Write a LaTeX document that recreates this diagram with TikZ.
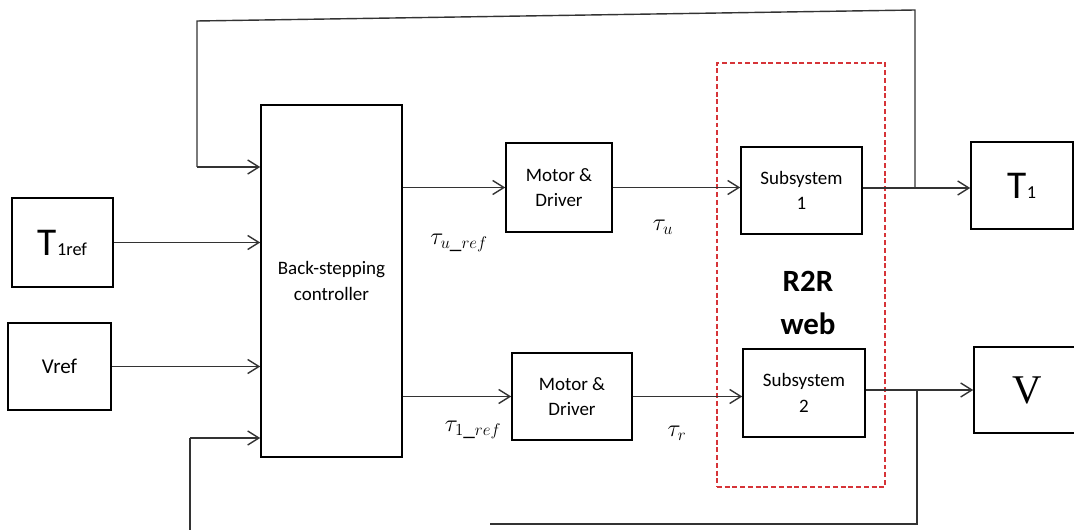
\documentclass[tikz,border=0pt]{standalone}
\usepackage{fontspec}
\setmainfont{Carlito}
\newfontfamily\serifV{Liberation Serif}
\usetikzlibrary{arrows.meta,positioning,calc}
\definecolor{webred}{RGB}{214,52,56}
\tikzset{
  box/.style={draw, line width=1.1pt, inner sep=0pt, align=center,
              font=\fontsize{13.5}{18}\selectfont},
  arrow/.style={-{Straight Barb[length=8pt,width=10pt]}, line width=1pt, black!80},
  wire/.style={line width=1pt, black!80},
  lbl/.style={font=\fontsize{16.5}{18}\selectfont},
}

\begin{document}
\begin{tikzpicture}[x=0.025cm, y=-0.025cm]
  \useasboundingbox (0,0) rectangle (1074,530);
  % blocks
  \node[box, minimum width=2.525cm, minimum height=2.225cm] (tref) at (62.5,242.5)
    {{\fontsize{28}{30}\selectfont T}{\fontsize{13}{15}\selectfont 1ref}};
  \node[box, minimum width=2.575cm, minimum height=2.175cm, font=\fontsize{15}{18}\selectfont] (vref) at (59.5,366.5) {Vref};
  \node[box, minimum width=3.525cm, minimum height=8.8cm] (ctrl) at (331.5,281) {Back-stepping\\controller};
  \node[box, minimum width=2.65cm, minimum height=2.225cm] (mot1) at (559,187.5) {Motor \&\\Driver};
  \node[box, minimum width=3.0cm, minimum height=2.175cm] (mot2) at (572,396.5) {Motor \&\\Driver};
  \node[box, minimum width=3.025cm, minimum height=2.175cm] (sub1) at (801.5,190.5) {Subsystem\\1};
  \node[box, minimum width=3.05cm, minimum height=2.2cm] (sub2) at (804,393) {Subsystem\\2};
  \node[box, minimum width=2.55cm, minimum height=2.175cm] (tout) at (1022,185.5)
    {{\fontsize{28}{30}\selectfont T}{\fontsize{13}{15}\selectfont 1}};
  \node[box, minimum width=2.65cm, minimum height=2.15cm, font=\fontsize{29}{32}\serifV] (vout) at (1027,390) {V};
  % R2R web group
  \node[draw=webred, dashed, dash pattern=on 3.5pt off 2pt, line width=0.8pt,
        minimum width=4.2cm, minimum height=10.6cm] (web) at (801,275) {};
  \node[align=center, font=\fontsize{22}{31}\selectfont\bfseries] (r2r) at (808,303) {R2R\\web};

  % signals
  \draw[arrow] (tref.east) -- (ctrl.west |- tref.east);
  \draw[arrow] (vref.east) -- (ctrl.west |- vref.east);
  \draw[arrow] (ctrl.east |- mot1) -- (mot1);
  \draw[arrow] (ctrl.east |- mot2) -- (mot2);
  \draw[arrow] (mot1.east) -- (sub1.west |- mot1.east);
  \draw[arrow] (mot2.east) -- (sub2.west |- mot2.east);

  \node[lbl] (tauuref) at (459,243) {$\tau_{u\_ref}$};
  \node[lbl] (tauu) at (663,227) {$\tau_{u}$};
  \node[lbl] (tauoneref) at (473,430) {$\tau_{1\_ref}$};
  \node[lbl] (taur) at (677,433) {$\tau_{r}$};

  % outputs and feedback
  \coordinate (jt) at (915,188);
  \coordinate (topR) at (915,10);
  \coordinate (topL) at (197,21);
  \coordinate (inT) at (197,167);
  \draw[arrow] (sub1.east |- jt) -- (jt) -- (tout.west |- jt);
  \draw[wire] (jt) -- (topR) -- (topL) -- (inT);
  \draw[arrow] (inT) -- (ctrl.west |- inT);

  \coordinate (jv) at (917,390);
  \coordinate (botR) at (917,524);
  \coordinate (botL) at (490,524);
  \coordinate (inV) at (190,438);
  \coordinate (inVb) at (190,535);
  \draw[arrow] (sub2.east |- jv) -- (jv) -- (vout.west |- jv);
  \draw[wire] (jv) -- (botR) -- (botL);
  \draw[wire] (inVb) -- (inV);
  \draw[arrow] (inV) -- (ctrl.west |- inV);
\end{tikzpicture}
\end{document}
